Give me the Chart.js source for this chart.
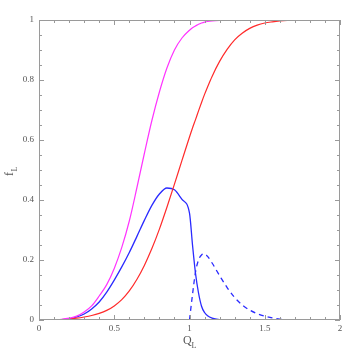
<!DOCTYPE html>
<html>
<head>
<meta charset="utf-8">
<script src="https://cdn.jsdelivr.net/npm/chart.js@4/dist/chart.umd.min.js"></script>
<style>
html,body{margin:0;padding:0;background:#fff;}
#wrap{width:359px;height:359px;}
</style>
</head>
<body>
<div id="wrap"><canvas id="c" width="359" height="359"></canvas></div>
<script>
// Q_L sample positions
const Q = [0.10,0.15,0.20,0.25,0.30,0.35,0.40,0.45,0.50,0.55,0.60,0.65,0.70,0.75,0.80,0.85,0.90,0.95,1.00,1.02,1.04,1.06,1.08,1.10,1.12,1.15,1.20,1.25,1.30,1.35,1.40,1.45,1.50,1.55,1.60,1.65,1.70,1.80,1.90,2.00];
// magenta curve
const magenta = [0,0.002,0.006,0.013,0.027,0.047,0.08,0.118,0.172,0.242,0.33,0.44,0.555,0.665,0.76,0.84,0.90,0.94,0.966,0.974,0.98,0.986,0.99,0.993,0.995,0.997,0.999,1,1,1,1,1,1,1,1,1,1,1,1,1];
// red curve
const red = [0,0.001,0.003,0.006,0.01,0.015,0.022,0.032,0.047,0.068,0.097,0.135,0.182,0.238,0.303,0.376,0.453,0.532,0.61,0.64,0.668,0.697,0.725,0.752,0.777,0.812,0.862,0.902,0.934,0.956,0.972,0.983,0.99,0.994,0.997,0.999,1,1,1,1];
// blue solid curve
const blueSolid = [0,0.001,0.004,0.01,0.02,0.037,0.06,0.093,0.133,0.177,0.225,0.278,0.332,0.382,0.42,0.44,0.434,0.402,0.356,0.25,0.155,0.09,0.046,0.025,0.014,0.006,0.001,0,0,0,0,0,0,0,0,0,0,0,0,0];
// blue dashed curve
const blueDashed = [null,null,null,null,null,null,null,null,null,null,null,null,null,null,null,null,null,null,0,0.085,0.16,0.2,0.217,0.22,0.212,0.19,0.148,0.108,0.075,0.05,0.033,0.021,0.013,0.007,0.003,0.001,0,null,null,null];

const xTicks = [0,0.5,1,1.5,2];
const yTicks = [0,0.2,0.4,0.6,0.8,1];

function pts(arr){ return Q.map((q,i)=>({x:q,y:arr[i]})); }

const axisColor = '#9a9a9a';
const labelColor = '#555';
const serif = "'Liberation Serif','DejaVu Serif',serif";

const framePlugin = {
  id:'frame',
  afterDraw(chart){
    const {ctx, chartArea:a, scales:{x,y}} = chart;
    ctx.save();
    ctx.strokeStyle = axisColor;
    ctx.lineWidth = 1;
    ctx.strokeRect(Math.round(a.left)+0.5, Math.round(a.top)+0.5, Math.round(a.right-a.left)-1, Math.round(a.bottom-a.top)-1);
    ctx.beginPath();
    for(let k=0;k<=20;k++){
      const v = k/10;
      const px = Math.round(x.getPixelForValue(v))+0.5;
      const L = (k%5===0)?5:3;
      ctx.moveTo(px,a.bottom); ctx.lineTo(px,a.bottom-L);
      ctx.moveTo(px,a.top); ctx.lineTo(px,a.top+L);
    }
    for(let k=0;k<=20;k++){
      const v = k/20;
      const py = Math.round(y.getPixelForValue(v))+0.5;
      const L = (k%4===0)?5:3;
      ctx.moveTo(a.left,py); ctx.lineTo(a.left+L,py);
      ctx.moveTo(a.right,py); ctx.lineTo(a.right-L,py);
    }
    ctx.stroke();
    // axis titles
    ctx.fillStyle = labelColor;
    ctx.textBaseline = 'alphabetic';
    ctx.textAlign = 'left';
    ctx.font = '12px ' + serif;
    ctx.fillText('Q', 183, 344);
    ctx.font = '8px ' + serif;
    ctx.fillText('L', 191.5, 347.5);
    ctx.translate(13, 176);
    ctx.rotate(-Math.PI/2);
    ctx.font = '12px ' + serif;
    ctx.fillText('f', 0, 0);
    ctx.font = '8px ' + serif;
    ctx.fillText('L', 4.5, 3.5);
    ctx.restore();
  }
};

new Chart(document.getElementById('c'), {
  type:'line',
  data:{
    datasets:[
      {data:pts(magenta), borderColor:'#ff33ff', borderWidth:1.2, pointRadius:0, fill:false, cubicInterpolationMode:'monotone'},
      {data:pts(red), borderColor:'#ff2a2a', borderWidth:1.2, pointRadius:0, fill:false, cubicInterpolationMode:'monotone'},
      {data:pts(blueSolid), borderColor:'#2a2aff', borderWidth:1.3, pointRadius:0, fill:false, cubicInterpolationMode:'monotone'},
      {data:pts(blueDashed), borderColor:'#2a2aff', borderWidth:1.3, borderDash:[5,4], pointRadius:0, fill:false, cubicInterpolationMode:'monotone', spanGaps:false}
    ]
  },
  options:{
    responsive:false,
    animation:false,
    devicePixelRatio:1,
    layout:{padding:{left:0,top:20,right:19,bottom:0}},
    plugins:{legend:{display:false}, tooltip:{enabled:false}},
    scales:{
      x:{
        type:'linear', min:0, max:2,
        grid:{display:false, drawTicks:false},
        border:{display:false},
        afterBuildTicks(s){ s.ticks = xTicks.map(v=>({value:v})); },
        afterFit(s){ s.height = 39; },
        ticks:{
          font:{family:serif, size:9}, color:labelColor, padding:3, maxRotation:0, autoSkip:false,
          callback:(v)=>String(v)
        }
      },
      y:{
        type:'linear', min:0, max:1,
        grid:{display:false, drawTicks:false},
        border:{display:false},
        afterBuildTicks(s){ s.ticks = yTicks.map(v=>({value:v})); },
        afterFit(s){ s.width = 39; },
        ticks:{
          font:{family:serif, size:9}, color:labelColor, padding:5, autoSkip:false,
          callback:(v)=>String(v)
        }
      }
    }
  },
  plugins:[framePlugin]
});
</script>
</body>
</html>
